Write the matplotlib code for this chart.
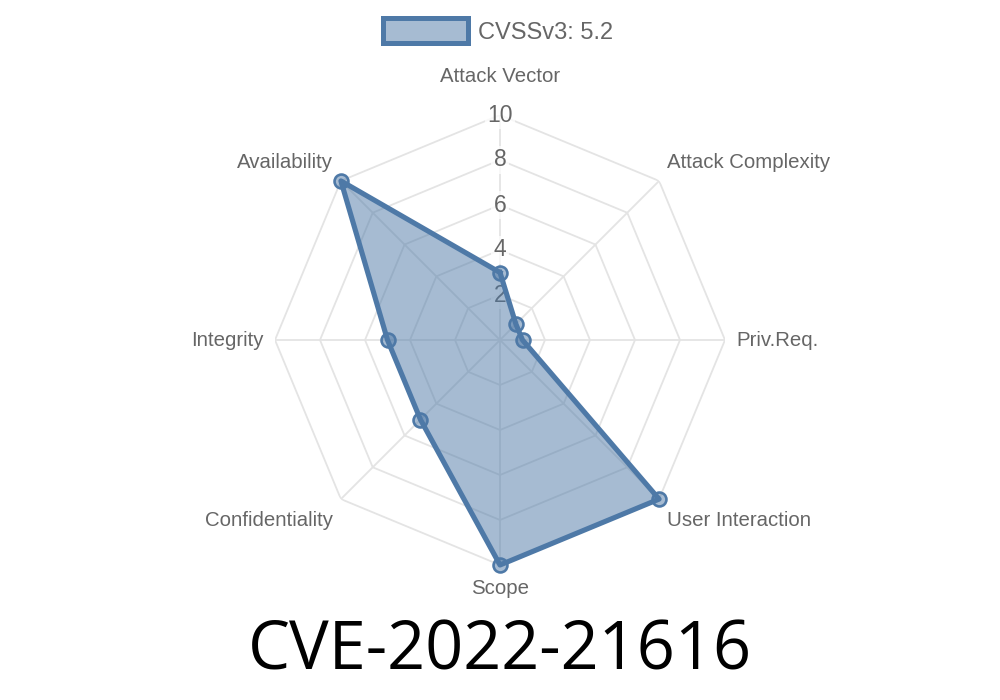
import numpy as np
import matplotlib
matplotlib.use("Agg")
import matplotlib.pyplot as plt
from matplotlib.patches import Patch

plt.rcParams['font.family'] = ['Liberation Sans', 'DejaVu Sans']

categories = ['Attack Vector', 'Attack Complexity', 'Priv.Req.', 'User Interaction',
              'Scope', 'Confidentiality', 'Integrity', 'Availability']
scores = [3, 1, 1, 10, 10, 5, 5, 10]
ticks = [2, 4, 6, 8, 10]
legend_label = 'CVSSv3: 5.2'
title = 'CVE-2022-21616'

line_color = '#4e79a7'
fill_color = (78 / 255, 121 / 255, 167 / 255, 0.5)
grid_color = '#e4e4e4'
text_color = '#666666'

n = len(categories)
angles = np.linspace(0, 2 * np.pi, n, endpoint=False)
closed = np.append(angles, angles[0])

fig = plt.figure(figsize=(10, 7), dpi=100)
ax = fig.add_axes([0.275, 135 / 700, 0.45, 450 / 700], projection='polar')
ax.set_theta_zero_location('N')
ax.set_theta_direction(-1)
ax.set_ylim(0, 10)
ax.grid(False)
ax.spines['polar'].set_visible(False)
ax.set_xticks([])
ax.set_yticks([])

# octagon grid
for t in ticks:
    ax.plot(closed, [t] * (n + 1), color=grid_color, lw=1.3, zorder=1)
for a in angles:
    ax.plot([a, a], [0, 10], color=grid_color, lw=1.3, zorder=1)

# tick labels on the top spoke
for t in ticks:
    ax.text(0, t, str(t), ha='center', va='center', fontsize=16.5, color=text_color,
            zorder=2, bbox=dict(boxstyle='square,pad=0.1', fc='white', ec='none', alpha=0.75))

# data
vals = scores + scores[:1]
ax.fill(closed, vals, color=fill_color, zorder=3, lw=0)
ax.plot(closed, vals, color=line_color, lw=3.7, zorder=4, solid_joinstyle='round',
        clip_on=False)
ax.plot(angles, scores, 'o', ms=10, mfc=fill_color, mec=line_color, mew=1.9, zorder=5,
        clip_on=False)

# point labels
offsets = [(0, 38, 'center'), (8, 18, 'left'), (11, 0, 'left'), (8, -21, 'left'),
           (0, -23, 'center'), (-8, -21, 'right'), (-11, 0, 'right'), (-8, 18, 'right')]
for a, lab, (dx, dy, ha) in zip(angles, categories, offsets):
    ax.annotate(lab, xy=(a, 10), xytext=(dx, dy), textcoords='offset pixels',
                ha=ha, va='center', fontsize=14.7, color=text_color, annotation_clip=False)

handle = Patch(facecolor=fill_color, edgecolor=line_color, linewidth=3.6)
fig.legend([handle], [legend_label], loc='center', bbox_to_anchor=(0.498, 1 - 31 / 700),
           frameon=False, fontsize=17, labelcolor=text_color,
           handlelength=3.6, handleheight=1.2, handletextpad=0.4)

fig.text(0.5, 30 / 700, title, ha='center', va='baseline', fontsize=48,
         family='Open Sans', color='black')

fig.savefig('out.png', dpi=100)
